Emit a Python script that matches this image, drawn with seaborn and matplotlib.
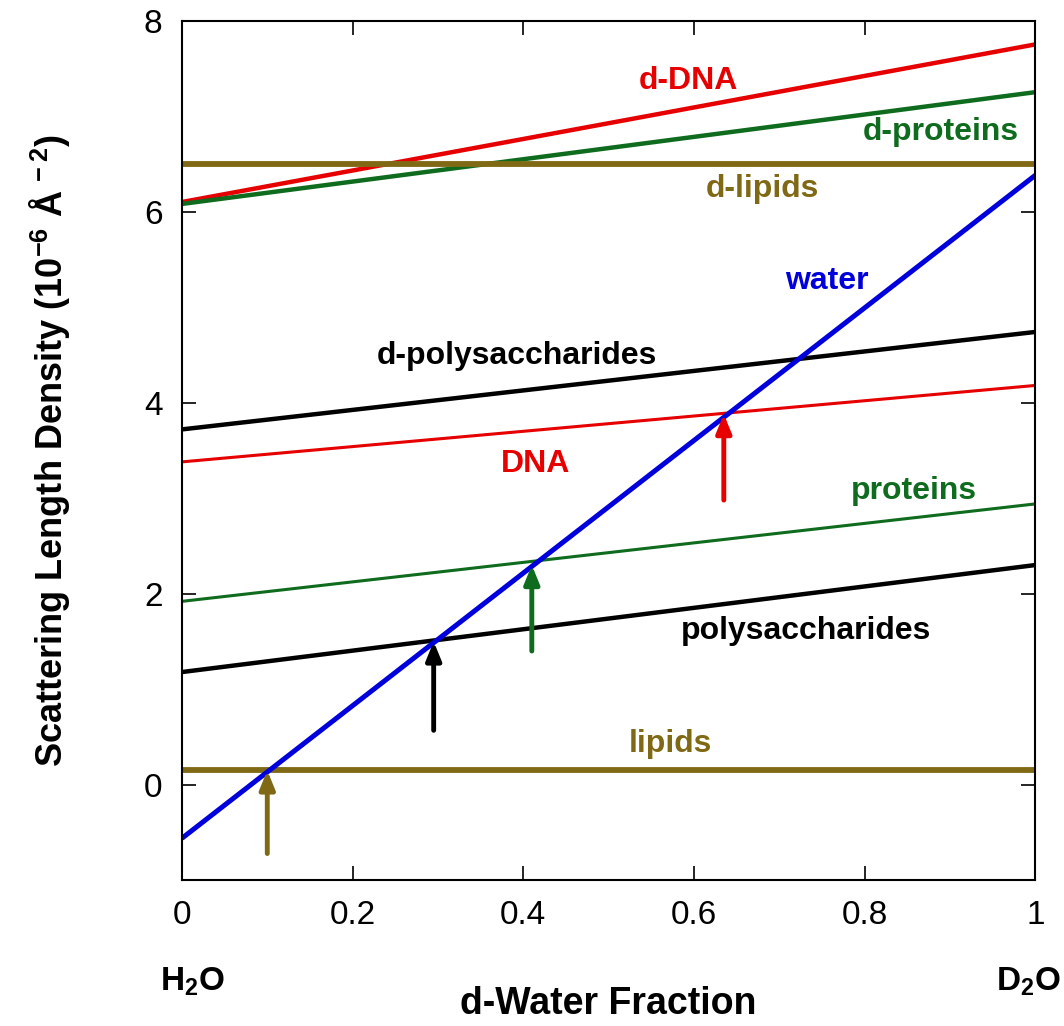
import numpy as np
import pandas as pd
import matplotlib
matplotlib.use("Agg")
import matplotlib.pyplot as plt
import seaborn as sns

# Datos
fraccion = [0.0, 1.0]
water = [-0.56, 6.38]
d_dna = [6.10, 7.75]
d_proteins = [6.08, 7.25]
d_lipids = [6.50, 6.50]
d_polysaccharides = [3.72, 4.74]
dna = [3.38, 4.18]
proteins = [1.92, 2.94]
polysaccharides = [1.18, 2.30]
lipids = [0.15, 0.15]

# puntos de contraste (flechas): x, y inicio, y fin
match_x = [0.10, 0.295, 0.41, 0.635]
match_y0 = [-0.72, 0.57, 1.40, 2.98]
match_y1 = [0.15, 1.50, 2.30, 3.88]

ROJO = "#e60000"
VERDE = "#0f6b1e"
ORO = "#806914"
AZUL = "#0000dc"
NEGRO = "#000000"

series = [
    ("d-DNA", d_dna, ROJO, 3.2),
    ("d-proteins", d_proteins, VERDE, 3.2),
    ("d-lipids", d_lipids, ORO, 4.2),
    ("d-polysaccharides", d_polysaccharides, NEGRO, 3.2),
    ("DNA", dna, ROJO, 2.2),
    ("proteins", proteins, VERDE, 2.2),
    ("polysaccharides", polysaccharides, NEGRO, 3.2),
    ("lipids", lipids, ORO, 4.2),
    ("water", water, AZUL, 3.6),
]

# posiciones de las etiquetas
etiquetas = [
    ("d-DNA", 0.593, 7.37, ROJO),
    ("d-proteins", 0.889, 6.83, VERDE),
    ("d-lipids", 0.68, 6.24, ORO),
    ("water", 0.756, 5.27, AZUL),
    ("d-polysaccharides", 0.393, 4.49, NEGRO),
    ("DNA", 0.414, 3.36, ROJO),
    ("proteins", 0.858, 3.07, VERDE),
    ("polysaccharides", 0.731, 1.61, NEGRO),
    ("lipids", 0.572, 0.43, ORO),
]
colores_flechas = [ORO, NEGRO, VERDE, ROJO]

sns.set_style("ticks")
plt.rcParams['font.family'] = ['Liberation Sans', 'DejaVu Sans']
plt.rcParams['mathtext.default'] = 'regular'
plt.rcParams['text.color'] = 'black'
plt.rcParams['axes.labelcolor'] = 'black'
plt.rcParams['xtick.color'] = 'black'
plt.rcParams['ytick.color'] = 'black'
plt.rcParams['axes.edgecolor'] = 'black'

fig = plt.figure(figsize=(10.64, 10.26), dpi=100)
ax = fig.add_axes([0.171, 0.142, 0.802, 0.838])

for nombre, vals, col, lw in series:
    df = pd.DataFrame({'x': fraccion, 'y': vals})
    sns.lineplot(data=df, x='x', y='y', color=col, lw=lw, ax=ax,
                 solid_capstyle='butt')

for x, y0, y1, col in zip(match_x, match_y0, match_y1, colores_flechas):
    ax.annotate("", xy=(x, y1), xytext=(x, y0),
                arrowprops=dict(arrowstyle="-|>,head_length=1.1,head_width=0.45",
                                color=col, lw=3.5, shrinkA=0, shrinkB=0))

for txt, x, y, col in etiquetas:
    ax.text(x, y, txt, color=col, fontsize=23, fontweight='bold',
            ha='center', va='center')

ax.set_xlim(0, 1)
ax.set_ylim(-1, 8)
ax.set_xticks([0, 0.2, 0.4, 0.6, 0.8, 1.0])
ax.set_xticklabels(["0", "0.2", "0.4", "0.6", "0.8", "1"])
ax.set_yticks([0, 2, 4, 6, 8])
ax.set_yticklabels(["0", "2", "4", "6", "8"])
ax.tick_params(direction='in', length=10, width=1.2, top=True, right=True,
               labelsize=24, pad=14)
for sp in ax.spines.values():
    sp.set_linewidth(1.5)

ax.set_xlabel("d-Water Fraction", fontsize=27, fontweight='bold', labelpad=40)
ax.set_ylabel("Scattering Length Density (10$^{-6}$ Å$^{\\,-2}$)", fontsize=26,
              fontweight='bold', labelpad=52)

fig.text(0.181, 0.043, "H$_2$O", fontsize=24, fontweight='bold', ha='center', va='center')
fig.text(0.997, 0.043, "D$_2$O", fontsize=24, fontweight='bold', ha='right', va='center')

fig.savefig("out.png", dpi=100)
